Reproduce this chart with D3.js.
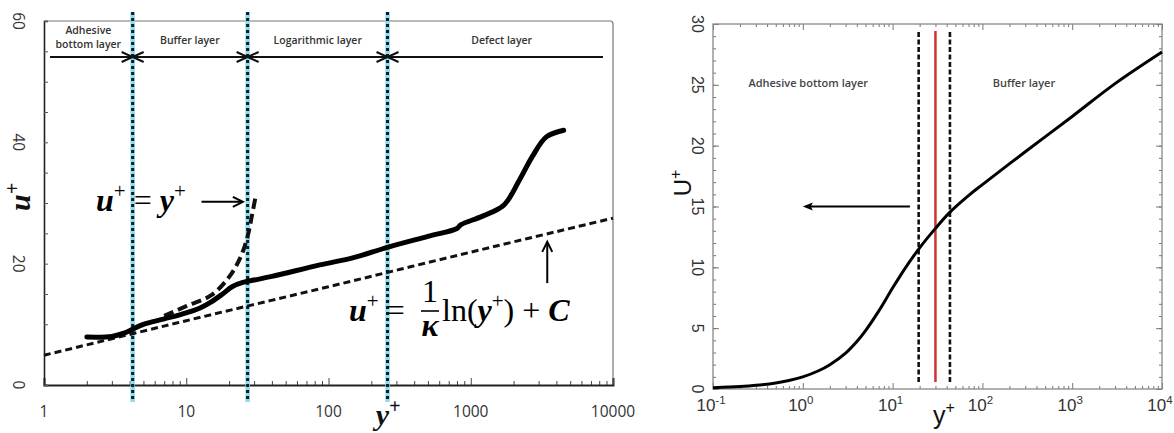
<!DOCTYPE html>
<html><head><meta charset="utf-8">
<script src="https://cdn.jsdelivr.net/npm/d3@7"></script>
<style>body{margin:0;background:#fff}svg{display:block}</style>
</head><body>
<svg id="c" width="1174" height="433"></svg>
<script>
// ---------- DATA (left panel) ----------
const leftXTicks = [1, 10, 100, 1000, 10000];
const leftYTicks = [0, 20, 40, 60];
const leftDividers = [4.2, 27, 260];
const leftLayers = [["Adhesive", "bottom layer"], ["Buffer layer"], ["Logarithmic layer"], ["Defect layer"]];
const leftLayerAt = [2.05, 10.6, 84, 1650];
const profileYp = [2, 3, 3.6, 4.2, 5, 7, 10, 12.5, 15, 18, 21, 25, 30, 40, 87, 150, 260, 500, 800, 850, 1200, 1700, 2200, 2700, 3400, 4500];
const profileUp = [7.9, 8.0, 8.5, 9.2, 10.0, 10.9, 11.9, 12.7, 13.7, 15.0, 16.2, 16.9, 17.3, 17.9, 19.8, 21.0, 22.7, 24.5, 25.8, 26.4, 27.8, 29.6, 33.8, 37.6, 40.9, 42.0];
const linearYp = [7, 10, 15, 20, 24, 27, 29, 31];
const linearUp = [11.4, 13.0, 14.8, 17.8, 21.0, 24.5, 28.0, 31.5];
const logLawYp = [1, 10, 100, 1000, 10000];
const logLawUp = [4.9, 10.6, 16.2, 21.9, 27.5];

// ---------- DATA (right panel) ----------
const rightXExp = [-1, 0, 1, 2, 3, 4];
const rightYTicks = [0, 5, 10, 15, 20, 25, 30];
const rightYp = [0.1, 0.2, 0.3, 0.5, 0.7, 1, 1.5, 2, 3, 4, 5, 7, 10, 14, 20, 30, 43, 70, 100, 300, 1000, 3000, 10000];
const rightUp = [0.1, 0.2, 0.3, 0.5, 0.7, 1.0, 1.5, 2.0, 2.95, 3.9, 4.8, 6.4, 8.3, 10.0, 11.6, 13.2, 14.5, 15.9, 16.8, 19.5, 22.4, 25.1, 27.7];
const rightDashed = [19.5, 43.5];
const rightRed = [30];
const rightLayers = ["Adhesive bottom layer", "Buffer layer"];
const rightLayerAt = [1.15, 290];

const svg = d3.select("#c");
svg.append("rect").attr("width", 1174).attr("height", 433).attr("fill", "#fff");

// ================= LEFT PANEL =================
const xL = d3.scaleLog().domain([1, 10000]).range([44, 613]);
const yL = d3.scaleLinear().domain([0, 60]).range([385, 21]);
const L = svg.append("g");

L.append("path").attr("d", `M${xL(1)},${yL(60)}H${xL(10000) - 3}Q${xL(10000)},${yL(60)} ${xL(10000)},${yL(60) + 3}V${yL(0)}`)
  .attr("fill", "none").attr("stroke", "#777").attr("stroke-width", 1.2);

const leftMinorX = [];
for (let d = 1; d < 10000; d *= 10) for (let k = 2; k <= 9; k++) leftMinorX.push(d * k);
const axB = L.append("g").attr("transform", `translate(0,${yL(0)})`)
  .call(d3.axisBottom(xL).tickValues(leftMinorX).tickSize(-4).tickFormat(""));
axB.selectAll("line").attr("stroke", "#444");
axB.select(".domain").remove();
const axB2 = L.append("g").attr("transform", `translate(0,${yL(0)})`)
  .call(d3.axisBottom(xL).tickValues(leftXTicks).tickSize(-7).tickFormat(""));
axB2.selectAll("line").attr("stroke", "#444");
axB2.select(".domain").attr("stroke", "#222").attr("stroke-width", 2);

const leftMinorY = d3.range(0, 61, 5);
const axLft = L.append("g").attr("transform", `translate(${xL(1)},0)`)
  .call(d3.axisLeft(yL).tickValues(leftMinorY).tickSize(-4).tickFormat(""));
axLft.selectAll("line").attr("stroke", "#555");
axLft.select(".domain").attr("stroke", "#222").attr("stroke-width", 1.6);

L.selectAll(".xl").data(leftXTicks).join("text")
  .attr("x", d => xL(d)).attr("y", 417).attr("text-anchor", "middle")
  .attr("font-family", "Open Sans").attr("font-size", 15.5).attr("fill", "#333").text(d => d);
L.selectAll(".yl").data(leftYTicks).join("text")
  .attr("transform", d => `translate(18,${yL(d)}) rotate(90)`)
  .attr("text-anchor", "middle").attr("dy", "0.35em")
  .attr("font-family", "Open Sans").attr("font-size", 15.5).attr("fill", "#333").text(d => d);

L.append("text").attr("transform", "translate(30,197) rotate(-90)").attr("text-anchor", "middle")
  .attr("font-family", "Liberation Serif").attr("font-style", "italic").attr("font-weight", "bold")
  .attr("font-size", 30).attr("fill", "#111")
  .html('u<tspan dy="-11" font-size="20">+</tspan>');
L.append("text").attr("x", 388).attr("y", 425).attr("text-anchor", "middle")
  .attr("font-family", "Liberation Serif").attr("font-style", "italic").attr("font-weight", "bold")
  .attr("font-size", 30).attr("fill", "#111")
  .html('y<tspan dy="-12" font-size="20">+</tspan>');

leftDividers.forEach(d => {
  L.append("line").attr("x1", xL(d)).attr("x2", xL(d)).attr("y1", 12).attr("y2", 402)
    .attr("stroke", "#8fdcea").attr("stroke-width", 4.5);
  L.append("line").attr("x1", xL(d)).attr("x2", xL(d)).attr("y1", 12).attr("y2", 402)
    .attr("stroke", "#0a1a2a").attr("stroke-width", 3).attr("stroke-dasharray", "3,3");
});

const yLayer = 57;
L.append("line").attr("x1", 50).attr("x2", 603).attr("y1", yLayer).attr("y2", yLayer)
  .attr("stroke", "#111").attr("stroke-width", 2);
leftDividers.forEach(d => {
  const x = xL(d);
  L.append("path").attr("d", `M${x - 11},${yLayer - 5}L${x},${yLayer}L${x - 11},${yLayer + 5}M${x + 11},${yLayer - 5}L${x},${yLayer}L${x + 11},${yLayer + 5}`)
    .attr("fill", "none").attr("stroke", "#111").attr("stroke-width", 2);
});
leftLayers.forEach((lines, i) => {
  const startY = lines.length === 2 ? 34 : 44;
  lines.forEach((s, j) => {
    L.append("text").attr("x", xL(leftLayerAt[i])).attr("y", startY + j * 13.5).attr("text-anchor", "middle")
      .attr("font-family", "Open Sans").attr("font-weight", 600).attr("font-size", 10.5).attr("fill", "#333").text(s);
  });
});

const lineL = d3.line().x(d => xL(d[0])).y(d => yL(d[1])).curve(d3.curveCatmullRom);
L.append("path").datum(logLawYp.map((v, i) => [v, logLawUp[i]])).attr("d", lineL)
  .attr("fill", "none").attr("stroke", "#111").attr("stroke-width", 3).attr("stroke-dasharray", "7,4");
L.append("path").datum(linearYp.map((v, i) => [v, linearUp[i]])).attr("d", lineL)
  .attr("fill", "none").attr("stroke", "#111").attr("stroke-width", 4).attr("stroke-dasharray", "10,5");
L.append("path").datum(profileYp.map((v, i) => [v, profileUp[i]])).attr("d", lineL)
  .attr("fill", "none").attr("stroke", "#000").attr("stroke-width", 5).attr("stroke-linecap", "round");

const eqFont = t => t.attr("font-family", "Liberation Serif").attr("font-size", 32).attr("fill", "#000");
eqFont(L.append("text").attr("x", 96).attr("y", 211))
  .html('<tspan font-style="italic" font-weight="bold">u</tspan><tspan dy="-13" font-size="21">+</tspan><tspan dy="13"> = </tspan><tspan font-style="italic" font-weight="bold">y</tspan><tspan dy="-13" font-size="21">+</tspan>');
const arr1From = [12.8, 30.2], arr1To = [25, 30.2];
L.append("line").attr("x1", xL(arr1From[0])).attr("x2", xL(arr1To[0]) - 2).attr("y1", yL(arr1From[1])).attr("y2", yL(arr1To[1]))
  .attr("stroke", "#000").attr("stroke-width", 2);
L.append("path").attr("d", `M${xL(arr1To[0]) - 10},${yL(arr1To[1]) - 5}L${xL(arr1To[0])},${yL(arr1To[1])}L${xL(arr1To[0]) - 10},${yL(arr1To[1]) + 5}`)
  .attr("fill", "none").attr("stroke", "#000").attr("stroke-width", 2);

eqFont(L.append("text").attr("x", 349).attr("y", 321))
  .html('<tspan font-style="italic" font-weight="bold">u</tspan><tspan dy="-13" font-size="21">+</tspan><tspan dy="13"> =</tspan>');
eqFont(L.append("text").attr("x", 430).attr("y", 302).attr("text-anchor", "middle").attr("font-size", 25)).text("1");
L.append("line").attr("x1", 421).attr("x2", 439).attr("y1", 311).attr("y2", 311).attr("stroke", "#000").attr("stroke-width", 1.6);
eqFont(L.append("text").attr("x", 430).attr("y", 336).attr("text-anchor", "middle").attr("font-size", 25).attr("font-style", "italic").attr("font-weight", "bold")).text("κ");
eqFont(L.append("text").attr("x", 442).attr("y", 321))
  .html('ln(<tspan font-style="italic" font-weight="bold">y</tspan><tspan dy="-13" font-size="21">+</tspan><tspan dy="13">) + </tspan><tspan font-style="italic" font-weight="bold">C</tspan>');
const arr2At = 3450, arr2From = 16.8, arr2To = 23.6;
L.append("line").attr("x1", xL(arr2At)).attr("x2", xL(arr2At)).attr("y1", yL(arr2From)).attr("y2", yL(arr2To) + 1)
  .attr("stroke", "#000").attr("stroke-width", 2);
L.append("path").attr("d", `M${xL(arr2At) - 5},${yL(arr2To) + 10}L${xL(arr2At)},${yL(arr2To)}L${xL(arr2At) + 5},${yL(arr2To) + 10}`)
  .attr("fill", "none").attr("stroke", "#000").attr("stroke-width", 2);

// ================= RIGHT PANEL =================
const xR = d3.scaleLog().domain([0.1, 10000]).range([713, 1162]);
const yR = d3.scaleLinear().domain([0, 30]).range([389, 24]);
const R = svg.append("g");

const rMinorX = [];
for (let d = 0.1; d < 9999; d *= 10) for (let k = 2; k <= 9; k++) rMinorX.push(d * k);
const rMajorX = rightXExp.map(e => Math.pow(10, e));
const rMinorY = d3.range(0, 31, 1);
function ticks(gen, vals, size, tr) {
  const g = R.append("g").attr("transform", tr).call(gen.tickValues(vals).tickSize(size).tickFormat(""));
  g.selectAll("line").attr("stroke", "#777");
  g.select(".domain").remove();
}
ticks(d3.axisBottom(xR), rMinorX, -3, `translate(0,${yR(0)})`);
ticks(d3.axisBottom(xR), rMajorX, -6, `translate(0,${yR(0)})`);
ticks(d3.axisTop(xR), rMinorX, -3, `translate(0,${yR(30)})`);
ticks(d3.axisTop(xR), rMajorX, -6, `translate(0,${yR(30)})`);
ticks(d3.axisLeft(yR), rMinorY, -3, `translate(${xR(0.1)},0)`);
ticks(d3.axisLeft(yR), rightYTicks, -6, `translate(${xR(0.1)},0)`);
ticks(d3.axisRight(yR), rMinorY, -3, `translate(${xR(10000)},0)`);
ticks(d3.axisRight(yR), rightYTicks, -6, `translate(${xR(10000)},0)`);
R.append("rect").attr("x", xR(0.1)).attr("y", yR(30)).attr("width", xR(10000) - xR(0.1)).attr("height", yR(0) - yR(30))
  .attr("fill", "none").attr("stroke", "#888").attr("stroke-width", 1.3);

R.selectAll(".xr").data(rightXExp).join("text")
  .attr("x", d => xR(Math.pow(10, d)) - 2).attr("y", 411).attr("text-anchor", "middle")
  .attr("font-family", "Liberation Sans").attr("font-size", 17).attr("fill", "#333")
  .html(d => `10<tspan dy="-7" font-size="11.5">${d < 0 ? "-" : ""}${Math.abs(d)}</tspan>`);
R.selectAll(".yr").data(rightYTicks).join("text")
  .attr("transform", d => `translate(698,${yR(d)}) rotate(90)`)
  .attr("text-anchor", "middle").attr("dy", "0.35em")
  .attr("font-family", "Liberation Sans").attr("font-size", 16).attr("fill", "#333").text(d => d);

R.append("text").attr("transform", "translate(691,183) rotate(-90)").attr("text-anchor", "middle")
  .attr("font-family", "Liberation Sans").attr("font-size", 24).attr("fill", "#111")
  .html('U<tspan dy="-10" font-size="16">+</tspan>');
R.append("text").attr("x", 944).attr("y", 424).attr("text-anchor", "middle")
  .attr("font-family", "Liberation Sans").attr("font-size", 25).attr("fill", "#111")
  .html('y<tspan dy="-11" font-size="16">+</tspan>');

R.selectAll(".lr").data(rightLayers).join("text")
  .attr("x", (d, i) => xR(rightLayerAt[i])).attr("y", 87).attr("text-anchor", "middle")
  .attr("font-family", "Open Sans").attr("font-weight", 600).attr("font-size", 11).attr("fill", "#444").text(d => d);

rightDashed.forEach(d => R.append("line").attr("x1", xR(d)).attr("x2", xR(d)).attr("y1", 32).attr("y2", 382)
  .attr("stroke", "#111").attr("stroke-width", 2.6).attr("stroke-dasharray", "5,2.5"));
rightRed.forEach(d => R.append("line").attr("x1", xR(d)).attr("x2", xR(d)).attr("y1", 31).attr("y2", 382)
  .attr("stroke", "#cc3333").attr("stroke-width", 2.5));

const lineR = d3.line().x(d => xR(d[0])).y(d => yR(d[1])).curve(d3.curveCatmullRom);
R.append("path").datum(rightYp.map((v, i) => [v, rightUp[i]])).attr("d", lineR)
  .attr("fill", "none").attr("stroke", "#000").attr("stroke-width", 3);

const arrRFrom = [15.6, 15], arrRTo = [1.0, 15];
R.append("line").attr("x1", xR(arrRFrom[0])).attr("x2", xR(arrRTo[0]) + 6).attr("y1", yR(arrRFrom[1])).attr("y2", yR(arrRTo[1]))
  .attr("stroke", "#000").attr("stroke-width", 2);
R.append("path").attr("d", `M${xR(arrRTo[0])},${yR(arrRTo[1])}L${xR(arrRTo[0]) + 10},${yR(arrRTo[1]) - 4}L${xR(arrRTo[0]) + 8},${yR(arrRTo[1])}L${xR(arrRTo[0]) + 10},${yR(arrRTo[1]) + 4}Z`)
  .attr("fill", "#000");
</script>
</body></html>
